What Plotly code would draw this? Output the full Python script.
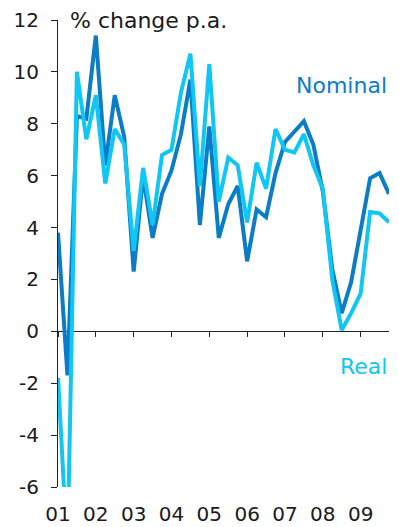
import plotly.graph_objects as go

# Quarterly growth rates, 2001Q1 - 2009Q4 (% change p.a.)
quarters = [f"{y}Q{q}" for y in range(2001, 2010) for q in range(1, 5)]
nominal = [3.8, -1.7, 8.3, 8.2, 11.4, 6.4, 9.1, 7.5,
           2.3, 6.0, 3.6, 5.3, 6.2, 7.6, 9.7, 4.1,
           7.9, 3.6, 4.9, 5.6, 2.7, 4.7, 4.4, 6.1,
           7.3, 7.7, 8.1, 7.2, 5.4, 2.4, 0.7, 1.9,
           3.9, 5.9, 6.1, 5.3]
real = [-1.8, -8.5, 10.0, 7.4, 9.1, 5.7, 7.8, 7.2,
        3.1, 6.3, 4.1, 6.8, 7.0, 9.2, 10.7, 5.6,
        10.3, 5.0, 6.7, 6.4, 4.2, 6.5, 5.5, 7.8,
        7.0, 6.9, 7.6, 6.4, 5.5, 2.0, 0.05, 0.7,
        1.45, 4.6, 4.55, 4.2]
year_labels = ["01", "02", "03", "04", "05", "06", "07", "08", "09"]
y_ticks = [-6, -4, -2, 0, 2, 4, 6, 8, 10, 12]

NOMINAL_COLOR = "#0b7cc6"
REAL_COLOR = "#0fc6f4"
TEXT_COLOR = "#1a1a1a"
FONT = "DejaVu Sans, Verdana, sans-serif"

xs = list(range(len(quarters)))
year_pos = [xs[i] for i in range(0, len(quarters), 4)]

fig = go.Figure()
fig.add_trace(go.Scatter(x=xs, y=nominal, mode="lines", name="Nominal",
                         line=dict(color=NOMINAL_COLOR, width=4),
                         xaxis="x", yaxis="y"))
fig.add_trace(go.Scatter(x=xs, y=real, mode="lines", name="Real",
                         line=dict(color=REAL_COLOR, width=4),
                         xaxis="x2", yaxis="y"))

y_min, y_max = y_ticks[0], y_ticks[-1]
zero_frac = (0 - y_min) / (y_max - y_min)

fig.update_layout(
    width=399, height=527,
    margin=dict(l=58, r=10, t=20, b=40, autoexpand=False),
    paper_bgcolor="white", plot_bgcolor="white",
    showlegend=False,
    font=dict(family=FONT, size=20, color=TEXT_COLOR),
    # tick marks sitting on the zero line
    xaxis=dict(range=[0, len(xs) - 1], anchor="free", position=zero_frac,
               tickvals=year_pos, ticks="outside", ticklen=5, tickwidth=1,
               tickcolor="#222222", showticklabels=False, automargin=False,
               showgrid=False, zeroline=False, showline=False),
    # year labels along the bottom
    xaxis2=dict(matches="x", overlaying="x", anchor="y", side="bottom",
                tickvals=year_pos, ticktext=year_labels, ticks="",
                ticklabelstandoff=13, automargin=False,
                tickfont=dict(family=FONT, size=20, color=TEXT_COLOR),
                showgrid=False, zeroline=False, showline=False),
    yaxis=dict(range=[y_min, y_max], tickvals=y_ticks,
               ticktext=[str(v) for v in y_ticks], ticks="outside",
               ticklen=6, tickwidth=1, tickcolor="#222222",
               ticklabelstandoff=8, automargin=False,
               tickfont=dict(family=FONT, size=20, color=TEXT_COLOR),
               showline=True, linecolor="#222222", linewidth=1,
               zeroline=True, zerolinecolor="#222222", zerolinewidth=1,
               showgrid=False),
    annotations=[
        dict(text="% change p.a.", xref="paper", yref="paper",
             x=0.03, y=1.0, xanchor="left", yanchor="middle",
             showarrow=False, font=dict(family=FONT, size=22, color=TEXT_COLOR)),
        dict(text="Nominal", xref="paper", yref="paper",
             x=1.0, y=0.859, xanchor="right", yanchor="middle",
             showarrow=False, font=dict(family=FONT, size=22, color=NOMINAL_COLOR)),
        dict(text="Real", xref="paper", yref="paper",
             x=1.0, y=0.259, xanchor="right", yanchor="middle",
             showarrow=False, font=dict(family=FONT, size=22, color=REAL_COLOR)),
    ],
)

fig.write_html("out.html")
